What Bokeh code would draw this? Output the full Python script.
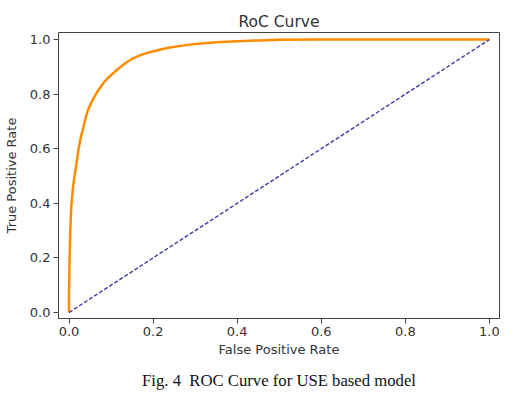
from bokeh.plotting import figure
from bokeh.models import FixedTicker, Title, Range1d
from bokeh.embed import file_html
from bokeh.resources import INLINE

# ROC curve points
fpr = [0.0, 0.0, 0.0005, 0.0015, 0.003, 0.0055, 0.009, 0.0125, 0.0166, 0.0205,
       0.0247, 0.029, 0.0342, 0.039, 0.0444, 0.052, 0.0603, 0.068, 0.076, 0.085,
       0.096, 0.108, 0.121, 0.135, 0.150, 0.170, 0.19, 0.218, 0.24, 0.265, 0.30,
       0.35, 0.40, 0.45, 0.5, 0.6, 0.7, 0.8, 0.9, 1.0]
tpr = [0.0, 0.06, 0.12, 0.21, 0.30, 0.39, 0.45, 0.495, 0.531, 0.577,
       0.617, 0.648, 0.678, 0.71, 0.739, 0.766, 0.79, 0.81, 0.828, 0.847,
       0.864, 0.881, 0.898, 0.915, 0.929, 0.943, 0.953, 0.964, 0.971, 0.977, 0.984,
       0.990, 0.994, 0.997, 0.999, 1.0, 1.0, 1.0, 1.0, 1.0]
chance_x = [0.0, 1.0]
chance_y = [0.0, 1.0]

tick_values = [0.0, 0.2, 0.4, 0.6, 0.8, 1.0]
tick_labels = ["0.0", "0.2", "0.4", "0.6", "0.8", "1.0"]

title_text = "RoC Curve"
x_label = "False Positive Rate"
y_label = "True Positive Rate"
caption = "Fig. 4\u00a0\u00a0ROC Curve for USE based model"

FONT = "DejaVu Sans"
TXT = "#333333"

p = figure(width=523, height=399, output_backend="svg", toolbar_location=None,
           x_range=Range1d(-0.025, 1.024), y_range=Range1d(-0.022, 1.026),
           min_border_left=58, min_border_right=24, min_border_top=32,
           min_border_bottom=81, background_fill_color="white",
           border_fill_color="white")

p.title.text = title_text
p.title.align = "center"
p.title.text_font = FONT
p.title.text_font_size = "15.5px"
p.title.text_font_style = "normal"
p.title.text_color = TXT
p.title.standoff = 3

p.line(fpr, tpr, line_color="#ff8c00", line_width=2.5)
p.line(chance_x, chance_y, line_color="#3b3ba6", line_width=1.4, line_dash="4 2")

p.grid.visible = False
p.outline_line_color = "#444444"
p.outline_line_width = 1

for ax in (p.xaxis[0], p.yaxis[0]):
    ax.ticker = FixedTicker(ticks=tick_values)
    ax.major_label_overrides = {v: s for v, s in zip(tick_values, tick_labels)}
    ax.minor_tick_line_color = None
    ax.major_tick_out = 5
    ax.major_tick_in = 0
    ax.major_tick_line_color = "#444444"
    ax.axis_line_color = "#444444"
    ax.major_label_text_font = FONT
    ax.major_label_text_font_size = "13px"
    ax.major_label_text_color = TXT
    ax.axis_label_text_font = FONT
    ax.axis_label_text_font_size = "13px"
    ax.axis_label_text_font_style = "normal"
    ax.axis_label_text_color = TXT

p.xaxis[0].axis_label = x_label
p.yaxis[0].axis_label = y_label
p.xaxis[0].major_label_standoff = 3
p.yaxis[0].major_label_standoff = 3
p.xaxis[0].axis_label_standoff = 3
p.yaxis[0].axis_label_standoff = 8

cap = Title(text=caption, align="center", text_font="Liberation Serif",
            text_font_size="16.7px", text_font_style="normal", text_color="#111111",
            standoff=19)
p.add_layout(cap, "below")

open("out.html", "w").write(file_html(p, INLINE))
